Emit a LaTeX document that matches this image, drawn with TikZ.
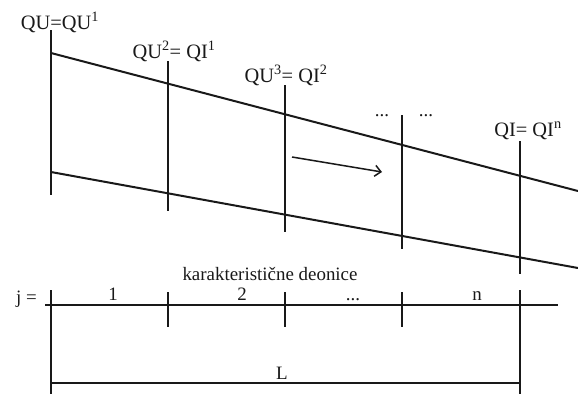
\documentclass[tikz,border=0pt]{standalone}
\usepackage{fontspec}
\setmainfont{Liberation Serif}
\usetikzlibrary{arrows.meta}
\begin{document}
\begin{tikzpicture}[x=1bp,y=-1bp,
  thick line/.style={line width=2bp,black!90},
  thin line/.style={line width=1.5bp,black!90},
  lbl/.style={inner sep=0pt,anchor=base,font=\fontsize{19}{22}\selectfont,text=black!90},
  qlbl/.style={lbl,font=\fontsize{20.5}{24}\selectfont}]
\useasboundingbox (0,0) rectangle (578,394);
% vertical section lines
\coordinate (v1t) at (51,30);  \coordinate (v1b) at (51,195);
\coordinate (v2t) at (168,61); \coordinate (v2b) at (168,211);
\coordinate (v3t) at (285,85); \coordinate (v3b) at (285,232);
\coordinate (v4t) at (402,115);\coordinate (v4b) at (402,249);
\coordinate (v5t) at (520,141);\coordinate (v5b) at (520,274);
\foreach \i in {1,...,5} {\draw[thick line] (v\i t) -- (v\i b);}
% sloped lines
\coordinate (ta) at (51,53);  \coordinate (tb) at (578,191);
\coordinate (ba) at (51,172); \coordinate (bb) at (578,268);
\draw[thick line] (ta) -- (tb);
\draw[thick line] (ba) -- (bb);
% flow arrow
\coordinate (aa) at (292,157); \coordinate (ab) at (382,172);
\draw[thin line,-{Straight Barb[length=6bp,width=11bp]}] (aa) -- (ab);
% labels top
\node[qlbl] (l1) at (60,29) {QU=QU\textsuperscript{1}};
\node[qlbl] (l2) at (174,58) {QU\textsuperscript{2}= QI\textsuperscript{1}};
\node[qlbl] (l3) at (286,82) {QU\textsuperscript{3}= QI\textsuperscript{2}};
\node[qlbl] (l5) at (528,136) {QI= QI\textsuperscript{n}};
\node[lbl] (d1) at (382,116) {...};
\node[lbl] (d2) at (426,116) {...};
% axis
\coordinate (xa) at (45,305); \coordinate (xb) at (558,305);
\draw[thick line] (xa) -- (xb);
\foreach \x [count=\k] in {168,285,402} {
  \coordinate (kt\k) at (\x,292); \coordinate (kb\k) at (\x,327);
  \draw[thick line] (kt\k) -- (kb\k);}
\coordinate (e1t) at (51,290); \coordinate (e1b) at (51,394);
\coordinate (e2t) at (520,290); \coordinate (e2b) at (520,394);
\draw[thick line] (e1t) -- (e1b);
\draw[thick line] (e2t) -- (e2b);
\coordinate (la) at (51,383); \coordinate (lb) at (520,383);
\draw[thin line] (la) -- (lb);
\node[lbl] (kd) at (270,280) {karakteristične deonice};
\node[lbl,anchor=base east] (j) at (37,303) {j =};
\node[lbl] (n1) at (113,300) {1};
\node[lbl] (n2) at (242,300) {2};
\node[lbl] (n3) at (353,300) {...};
\node[lbl] (nn) at (477,300) {n};
\node[lbl] (L) at (282,379) {L};
\end{tikzpicture}
\end{document}
